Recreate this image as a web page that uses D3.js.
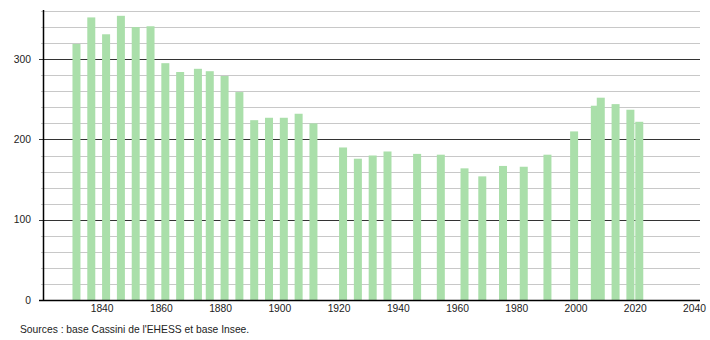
<!DOCTYPE html>
<html lang="fr">
<head>
  <meta charset="UTF-8">
  <title>Évolution de la population</title>
  <style>
    body { margin: 0; background: #fff; }
    text { font-family: "Liberation Sans", Arial, sans-serif; fill: #222; }
  </style>
</head>
<body>
  <script src="https://d3js.org/d3.v7.min.js"></script>
  <script>
    // années des recensements et population
    const years = [1831, 1836, 1841, 1846, 1851, 1856, 1861, 1866, 1872, 1876, 1881, 1886,
      1891, 1896, 1901, 1906, 1911, 1921, 1926, 1931, 1936, 1946, 1954, 1962, 1968, 1975,
      1982, 1990, 1999, 2006, 2008, 2013, 2018, 2021];
    const population = [319, 352, 331, 354, 340, 341, 295, 284, 288, 285, 279, 259,
      224, 227, 227, 232, 220, 190, 176, 180, 185, 182, 181, 164, 154, 167,
      166, 181, 210, 242, 252, 244, 237, 222];
    const xTicks = [1840, 1860, 1880, 1900, 1920, 1940, 1960, 1980, 2000, 2020, 2040];
    const yTicks = [0, 100, 200, 300];
    const source = "Sources : base Cassini de l'EHESS et base Insee.";

    const data = years.map((y, i) => ({ year: y, value: population[i] }));

    const svgWidth = 710, svgHeight = 340;
    const margin = { left: 43, right: 700, top: 11, bottom: 300 };

    const x = d3.scaleLinear().domain([1819.7, 2041.5]).range([margin.left, margin.right]);
    const y = d3.scaleLinear().domain([0, 360]).range([margin.bottom, margin.top]);

    const svg = d3.select('body').append('svg')
      .attr('width', svgWidth)
      .attr('height', svgHeight);

    // grille : lignes fines tous les 20, foncées tous les 100
    const minor = d3.range(20, 361, 20).filter(v => v % 100 !== 0);
    svg.append('g').selectAll('line').data(minor).enter().append('line')
      .attr('x1', margin.left - 2).attr('x2', margin.right)
      .attr('y1', d => Math.round(y(d)) + 0.5).attr('y2', d => Math.round(y(d)) + 0.5)
      .attr('stroke', '#c8c8c8');

    svg.append('g').selectAll('line').data(yTicks.filter(v => v > 0)).enter().append('line')
      .attr('x1', margin.left - 4).attr('x2', margin.right)
      .attr('y1', d => Math.round(y(d)) + 0.5).attr('y2', d => Math.round(y(d)) + 0.5)
      .attr('stroke', '#333');

    // barres
    const halfW = 1.35;
    svg.append('g').selectAll('rect').data(data).enter().append('rect')
      .attr('x', d => x(d.year - halfW))
      .attr('width', d => x(d.year + halfW) - x(d.year - halfW))
      .attr('y', d => y(d.value))
      .attr('height', d => y(0) - y(d.value))
      .attr('fill', '#aadfaa');

    // axes
    svg.append('line')
      .attr('x1', margin.left + 0.5).attr('x2', margin.left + 0.5)
      .attr('y1', margin.top - 1).attr('y2', margin.bottom)
      .attr('stroke', '#000').attr('stroke-width', 1.5);
    svg.append('line')
      .attr('x1', margin.left - 4).attr('x2', margin.right)
      .attr('y1', margin.bottom + 0.5).attr('y2', margin.bottom + 0.5)
      .attr('stroke', '#000').attr('stroke-width', 1.5);

    // étiquettes
    svg.append('g').selectAll('text').data(yTicks).enter().append('text')
      .attr('x', 31)
      .attr('y', d => y(d) + 3.5)
      .attr('text-anchor', 'end')
      .style('font-size', '10.3px')
      .text(d => d);

    svg.append('g').selectAll('text').data(xTicks).enter().append('text')
      .attr('x', d => x(d) - 1)
      .attr('y', 312)
      .attr('text-anchor', 'middle')
      .style('font-size', '10.3px')
      .text(d => d);

    svg.append('text')
      .attr('x', 20)
      .attr('y', 333)
      .style('font-size', '10.3px')
      .text(source);
  </script>
</body>
</html>
